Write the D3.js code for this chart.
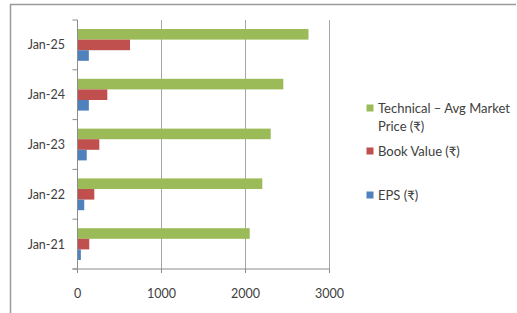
<!DOCTYPE html>
<html><head><meta charset="utf-8">
<script src="https://cdn.jsdelivr.net/npm/d3@7"></script>
<style>body{margin:0;background:#fff}svg{display:block}text{font-family:Lato,"Open Sans","Noto Sans",sans-serif}</style>
</head><body>
<svg id="c" width="517" height="313"></svg>
<script>
const categories = ["Jan-21","Jan-22","Jan-23","Jan-24","Jan-25"];
const seriesNames = ["Technical \u2013 Avg Market Price (\u20B9)","Book Value (\u20B9)","EPS (\u20B9)"];
const marketPrice = [2050, 2200, 2300, 2450, 2750];
const bookValue = [140, 200, 260, 355, 625];
const eps = [40, 80, 110, 135, 135];
const xTicks = [0, 1000, 2000, 3000];
const colors = ["#9bbb59", "#c0504d", "#4f81bd"];

const svg = d3.select("#c");
const L = 77.5, R = 329.5, T = 20, B = 269;
// outer frame
svg.append("path").attr("d", `M10.5,313 V4.5 H516`).attr("fill","none").attr("stroke","#9a9a9a").attr("stroke-width",1.5);

const x = d3.scaleLinear().domain([0, 3000]).range([L, R]);
const y = d3.scaleBand().domain(categories.slice().reverse()).range([T, B]).padding(0);
const step = y.bandwidth();
const gap = 9;
const sub = d3.scaleBand().domain([0,1,2]).range([gap, step - gap]).padding(0);

// gridlines
svg.append("g").selectAll("line").data(xTicks.slice(1)).join("line")
  .attr("x1", d => x(d)).attr("x2", d => x(d)).attr("y1", T).attr("y2", B)
  .attr("stroke", "#a6a6a6").attr("stroke-width", 1).attr("shape-rendering","crispEdges");

const data = [marketPrice, bookValue, eps];
data.forEach((vals, si) => {
  svg.append("g").selectAll("rect").data(vals).join("rect")
    .attr("x", x(0))
    .attr("y", (d, i) => y(categories[i]) + sub(si))
    .attr("width", d => x(d) - x(0))
    .attr("height", sub.bandwidth())
    .attr("fill", colors[si]);
});

// axes
const axisColor = "#8c8c8c";
svg.append("line").attr("x1", L).attr("x2", L).attr("y1", T).attr("y2", B).attr("stroke", axisColor);
svg.append("line").attr("x1", L - 5).attr("x2", R).attr("y1", B).attr("y2", B).attr("stroke", axisColor);
// category ticks at band edges
const edges = categories.map(c => y(c)).concat([B]);
svg.append("g").selectAll("line").data(edges).join("line")
  .attr("x1", L - 5).attr("x2", L).attr("y1", d => d).attr("y2", d => d).attr("stroke", axisColor);
// value ticks
svg.append("g").selectAll("line").data(xTicks).join("line")
  .attr("x1", d => x(d)).attr("x2", d => x(d)).attr("y1", B).attr("y2", B + 4).attr("stroke", axisColor);

svg.append("g").selectAll("text").data(xTicks).join("text")
  .attr("x", d => x(d)).attr("y", 293).attr("text-anchor", "middle").attr("dominant-baseline","central")
  .attr("font-size", 12.5).attr("fill", "#404040").text(d => d);

svg.append("g").selectAll("text").data(categories).join("text")
  .attr("x", 65).attr("y", d => y(d) + step / 2).attr("text-anchor", "end").attr("dominant-baseline","central")
  .attr("font-size", 12.5).attr("fill", "#404040").text(d => d);

// legend
const legend = [
  {lines: ["Technical \u2013 Avg Market", "Price (\u20B9)"], y: 108, c: colors[0]},
  {lines: ["Book Value (\u20B9)"], y: 151, c: colors[1]},
  {lines: ["EPS (\u20B9)"], y: 195, c: colors[2]}
];
const lg = svg.append("g");
legend.forEach(it => {
  lg.append("rect").attr("x", 366.5).attr("y", it.y - 3.5).attr("width", 7).attr("height", 7).attr("fill", it.c);
  it.lines.forEach((t, k) => {
    lg.append("text").attr("x", 378).attr("y", it.y + k * 17.5).attr("dominant-baseline","central")
      .attr("font-size", 13).attr("fill", "#404040").text(t);
  });
});
</script>
</body></html>
